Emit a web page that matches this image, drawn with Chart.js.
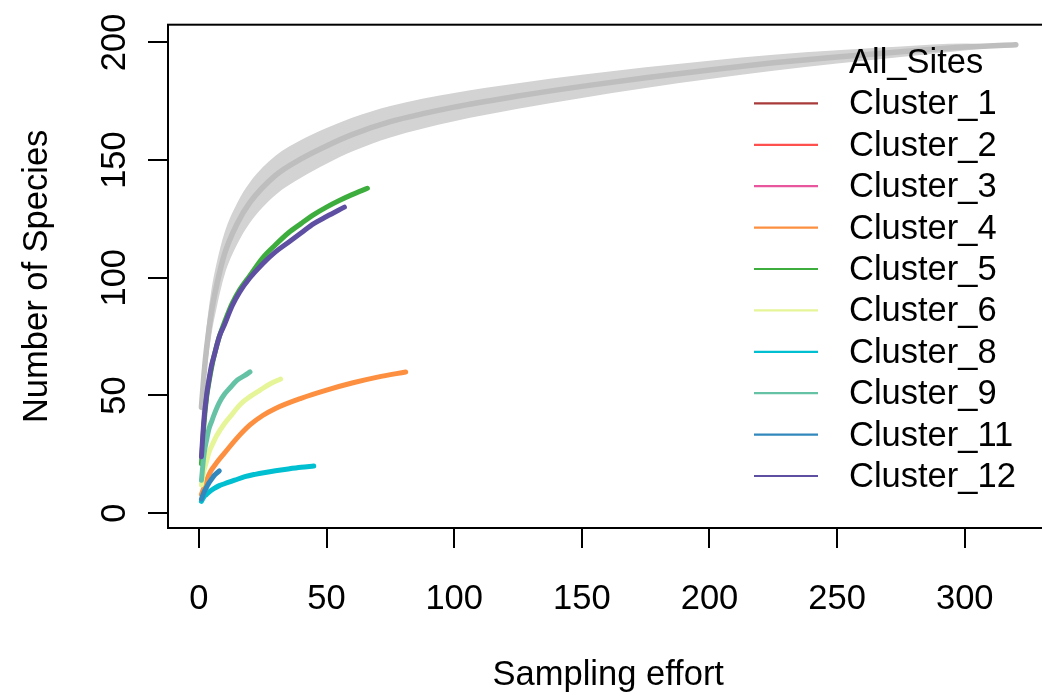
<!DOCTYPE html>
<html>
<head>
<meta charset="utf-8">
<script src="https://cdn.jsdelivr.net/npm/chart.js@4.4.0/dist/chart.umd.min.js"></script>
<style>
  html, body { margin: 0; padding: 0; overflow: hidden; background: #fff; }
  #wrap { width: 1050px; height: 696px; }
</style>
</head>
<body>
<div id="wrap"><canvas id="chart-accum" width="1050" height="696"></canvas></div>
<script>
// tick labels
var xTicks = [0, 50, 100, 150, 200, 250, 300];
var yTicks = [0, 50, 100, 150, 200];

// All_Sites accumulation: mean and sd band
var allX    = [1, 2, 3, 5, 7, 10, 15, 20, 30, 40, 50, 60, 75, 100, 125, 150, 175, 200, 225, 250, 275, 300, 320];
var allMean = [45, 59, 70, 86, 97, 110, 123, 132, 143.5, 150.5, 156, 160.8, 166.3, 172.5, 177.2, 181.3, 185, 188.3, 191.3, 193.8, 196, 198, 199];
var allSd   = [5, 8, 9, 9.5, 9.5, 9, 8.8, 8.6, 8.3, 8, 7.6, 7.2, 6.7, 6, 5.4, 4.9, 4.4, 3.9, 3.4, 2.8, 2.2, 1.5, 0];

// clusters
var c1X = [],  c1Y = [];
var c2X = [],  c2Y = [];
var c3X = [],  c3Y = [];
var c4X = [1, 2, 3, 4, 5, 7, 10, 15, 20, 25, 30, 40, 50, 60, 70, 81];
var c4Y = [8, 11, 14, 16.5, 18.5, 21.5, 25.5, 32, 37.5, 41.5, 44.5, 48.8, 52.3, 55.3, 57.8, 60];
var c5X = [1, 2, 3, 4, 5, 6, 8, 10, 13, 16, 20, 25, 30, 35, 40, 45, 50, 55, 60, 66];
var c5Y = [21, 38, 49, 56, 62, 67, 75, 81, 89, 95, 101, 108.5, 114, 119, 123, 126.8, 130, 132.8, 135.3, 138];
var c6X = [1, 2, 3, 4, 5, 7, 10, 13, 16, 20, 24, 28, 32];
var c6Y = [12, 18, 22, 26, 28.5, 33, 38, 42, 46, 49.5, 52.3, 55, 57];
var c8X = [1, 2, 3, 4, 6, 8, 10, 14, 18, 22, 26, 30, 35, 40, 45];
var c8Y = [5, 7, 8, 9, 10.5, 11.7, 12.5, 14, 15.5, 16.5, 17.3, 18, 18.8, 19.5, 20];
var c9X = [1, 2, 3, 4, 5, 6, 8, 10, 12, 15, 18, 20];
var c9Y = [14, 25, 31, 36, 39, 42, 47, 50.5, 53, 56.5, 58.5, 60];
var c11X = [1, 2, 3, 4, 5, 6, 7, 8];
var c11Y = [6, 9, 11, 13, 14.5, 16, 17, 18];
var c12X = [1, 2, 3, 4, 5, 6, 8, 10, 13, 16, 20, 25, 30, 35, 40, 45, 50, 57];
var c12Y = [24, 40, 50, 57, 63, 67, 75, 80, 88, 94, 100, 106, 111, 115, 119, 123, 126, 130];

var clusterNames  = ["Cluster_1", "Cluster_2", "Cluster_3", "Cluster_4", "Cluster_5", "Cluster_6", "Cluster_8", "Cluster_9", "Cluster_11", "Cluster_12"];
var clusterColors = ["#A83A3A", "#FF5050", "#E8579E", "#FD9040", "#3DAE3D", "#E6F598", "#00BFD0", "#66C2A5", "#3288BD", "#5E4FA2"];
var clusterX = [c1X, c2X, c3X, c4X, c5X, c6X, c8X, c9X, c11X, c12X];
var clusterY = [c1Y, c2Y, c3Y, c4Y, c5Y, c6Y, c8Y, c9Y, c11Y, c12Y];

var FONT = "'Liberation Sans', Arial, Helvetica, sans-serif";
var FONT_SIZE = 34.5;

function toPoints(xs, ys) {
  return xs.map(function(x, i) { return {x: x, y: ys[i]}; });
}

// box round the plot region, like R's box()
var boxPlugin = {
  id: 'rBox',
  afterDatasetsDraw: function(chart) {
    var a = chart.chartArea, ctx = chart.ctx;
    ctx.save();
    ctx.strokeStyle = '#000';
    ctx.lineWidth = 2;
    ctx.strokeRect(a.left, a.top, a.right - a.left, a.bottom - a.top);
    ctx.restore();
  }
};

// legend without frame, top right inside the plot
var legendPlugin = {
  id: 'rLegend',
  afterDraw: function(chart) {
    var ctx = chart.ctx;
    var items = chart.data.datasets.filter(function(d) { return d.legendText; });
    var lineX0 = 754, lineX1 = 818, textX = 849, rowY = 62, rowStep = 41.4;
    ctx.save();
    ctx.font = FONT_SIZE + 'px ' + FONT;
    ctx.textBaseline = 'middle';
    ctx.textAlign = 'left';
    ctx.fillStyle = '#000';
    items.forEach(function(d, i) {
      var y = rowY + i * rowStep;
      if (d.legendLine) {
        ctx.strokeStyle = d.borderColor;
        ctx.lineWidth = 2.2;
        ctx.beginPath();
        ctx.moveTo(lineX0, y);
        ctx.lineTo(lineX1, y);
        ctx.stroke();
      }
      ctx.fillText(d.legendText, textX, y + 1.5);
    });
    ctx.restore();
  }
};

var datasets = [];
datasets.push({
  data: toPoints(allX, allMean.map(function(m, i) { return m + allSd[i]; })),
  borderWidth: 0, pointRadius: 0, backgroundColor: '#D3D3D3',
  fill: '+1', order: 100, cubicInterpolationMode: 'monotone'
});
datasets.push({
  data: toPoints(allX, allMean.map(function(m, i) { return m - allSd[i]; })),
  borderWidth: 0, pointRadius: 0, fill: false, order: 100, cubicInterpolationMode: 'monotone'
});
datasets.push({
  data: toPoints(allX, allMean),
  borderColor: '#BEBEBE', borderWidth: 5.5, pointRadius: 0, fill: false,
  order: 99, cubicInterpolationMode: 'monotone', borderCapStyle: 'round',
  legendText: 'All_Sites', legendLine: false
});
for (var i = 0; i < clusterNames.length; i++) {
  datasets.push({
    data: toPoints(clusterX[i], clusterY[i]),
    borderColor: clusterColors[i], borderWidth: 5, pointRadius: 0, fill: false,
    order: 50 - i, cubicInterpolationMode: 'monotone',
    borderCapStyle: 'round', borderJoinStyle: 'round',
    legendText: clusterNames[i], legendLine: true
  });
}

Chart.defaults.font.family = FONT;
Chart.defaults.font.size = FONT_SIZE;
Chart.defaults.color = '#000';

var chart = new Chart(document.getElementById('chart-accum').getContext('2d'), {
  type: 'line',
  data: { datasets: datasets },
  options: {
    responsive: false,
    animation: false,
    events: [],
    layout: { padding: { left: 0, top: 18, right: 1.5, bottom: 0 } },
    plugins: { legend: { display: false }, tooltip: { enabled: false } },
    scales: {
      x: {
        type: 'linear', min: -12.1, max: 332.8,
        afterBuildTicks: function(scale) { scale.ticks = xTicks.map(function(v) { return {value: v}; }); },
        afterFit: function(scale) { scale.height = 168; },
        grid: { drawOnChartArea: false, drawTicks: true, tickLength: 20, color: '#000', lineWidth: 2 },
        border: { display: false },
        ticks: { padding: 31, maxRotation: 0, minRotation: 0 },
        title: { display: true, text: 'Sampling effort', padding: { top: 0, bottom: 0 } }
      },
      y: {
        type: 'linear', min: -6.3, max: 207.5,
        afterBuildTicks: function(scale) { scale.ticks = yTicks.map(function(v) { return {value: v}; }); },
        afterFit: function(scale) { scale.width = 168; },
        grid: { drawOnChartArea: false, drawTicks: true, tickLength: 20, color: '#000', lineWidth: 2 },
        border: { display: false },
        ticks: { padding: 4, minRotation: 90, maxRotation: 90, crossAlign: 'center' },
        title: { display: true, text: 'Number of Species', padding: { top: 17, bottom: 0 } }
      }
    }
  },
  plugins: [boxPlugin, legendPlugin]
});
</script>
</body>
</html>
